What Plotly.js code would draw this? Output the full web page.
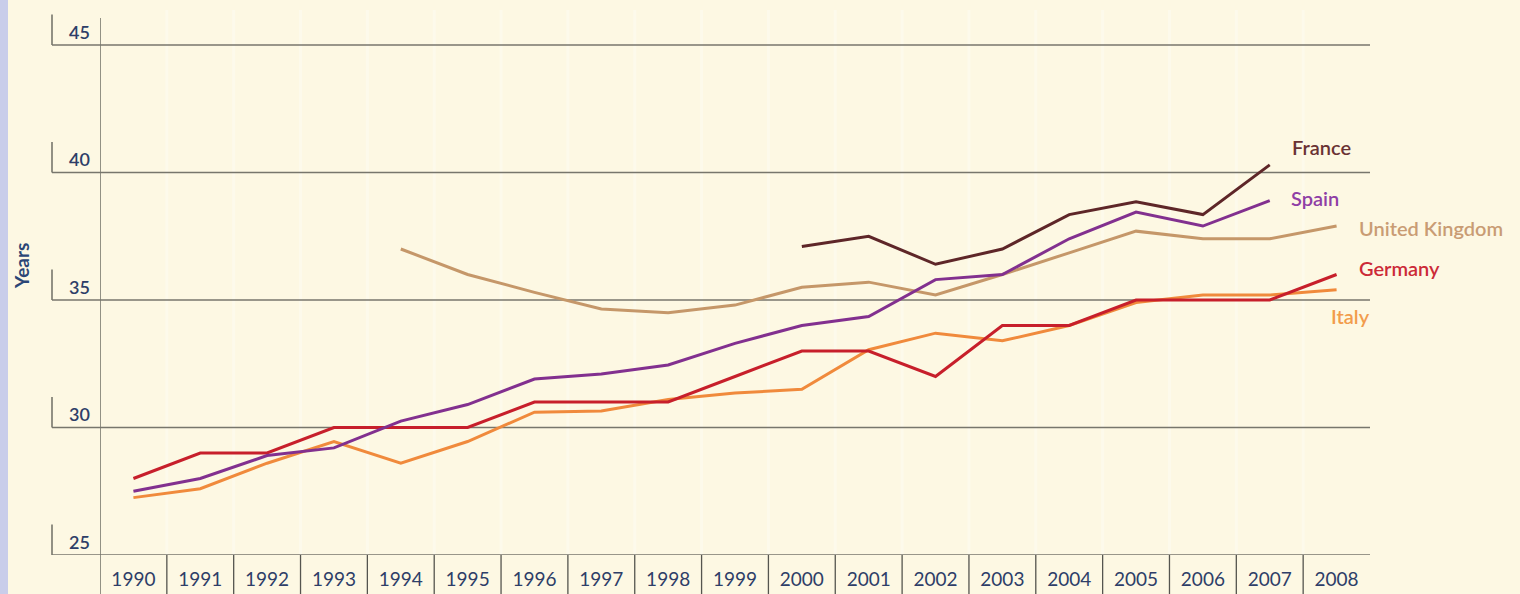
<!DOCTYPE html>
<html>
<head>
<meta charset="utf-8">
<script src="https://cdn.plot.ly/plotly-3.0.1.min.js"></script>
<style>
  html, body { margin: 0; padding: 0; background: #fdf8e3; }
  #chart { width: 1520px; height: 594px; }
</style>
</head>
<body>
<div id="chart"></div>
<script>
// ---- Data ----
const years = ["1990","1991","1992","1993","1994","1995","1996","1997","1998","1999",
               "2000","2001","2002","2003","2004","2005","2006","2007","2008"];
const france  = [null,null,null,null,null,null,null,null,null,null,
                 37.1,37.5,36.4,37.0,38.35,38.85,38.35,40.3,null];
const spain   = [27.5,28.0,28.9,29.2,30.25,30.9,31.9,32.1,32.45,33.3,
                 34.0,34.35,35.8,36.0,37.4,38.45,37.9,38.9,null];
const uk      = [null,null,null,null,37.0,36.0,35.3,34.65,34.5,34.8,
                 35.5,35.7,35.2,36.0,36.85,37.7,37.4,37.4,37.9];
const germany = [28,29,29,30,30,30,31,31,31,32,
                 33,33,32,34,34,35,35,35,36];
const italy   = [27.25,27.6,28.6,29.45,28.6,29.45,30.6,30.65,31.1,31.35,
                 31.5,33.05,33.7,33.4,34.0,34.9,35.2,35.2,35.4];
const yTicks = [25, 30, 35, 40, 45];
const seriesNames = ["France", "Spain", "United Kingdom", "Germany", "Italy"];

// ---- Styling ----
const textBlue = "#2e3e68";
const gridCol = "#77766c";
const cols = {
  "France": "#5e2628",
  "Spain": "#82308f",
  "United Kingdom": "#c59769",
  "Germany": "#c71f2b",
  "Italy": "#f08a3c"
};
const labelCols = {
  "France": "#6a3234",
  "Spain": "#8f3ea6",
  "United Kingdom": "#c99c74",
  "Germany": "#cc2a38",
  "Italy": "#f29c4c"
};
const FONT = "Lato, 'Open Sans', sans-serif";

function tr(name, y) {
  return {
    type: "scatter", mode: "lines", name: name,
    x: years, y: y, connectgaps: false,
    line: { color: cols[name], width: 3 },
    hoverinfo: "x+y+name"
  };
}
const data = [
  tr("United Kingdom", uk),
  tr("Italy", italy),
  tr("Germany", germany),
  tr("Spain", spain),
  tr("France", france)
];

// Geometry in paper units (plot area 1270 x 545 px)
const PW = 1270, PH = 545;
const leftExt = -48 / PW;          // gridlines start at the brackets
const bottomExt = -39 / PH;        // year cells below axis
const shapes = [];

// lavender strip at far left
shapes.push({ type: "rect", xref: "paper", yref: "paper",
  x0: -100 / PW, x1: -92 / PW, y0: bottomExt, y1: 1 + 10 / PH,
  fillcolor: "#c9cdea", line: { width: 0 }, layer: "below" });

// faint vertical stripes in the plot body
for (let k = 1; k < years.length; k++) {
  shapes.push({ type: "line", xref: "x", yref: "paper",
    x0: k - 0.5, x1: k - 0.5, y0: 0, y1: 1,
    line: { color: "rgba(255,255,255,0.3)", width: 3 }, layer: "below" });
}

// horizontal gridlines + bracket ticks
yTicks.forEach(v => {
  shapes.push({ type: "line", xref: "paper", yref: "y",
    x0: leftExt, x1: 1, y0: v, y1: v,
    line: { color: gridCol, width: 1.6 }, layer: "below" });
  shapes.push({ type: "line", xref: "paper", yref: "y",
    x0: leftExt, x1: leftExt, y0: v, y1: v + 1.2,
    line: { color: gridCol, width: 1.6 }, layer: "below" });
});

// main vertical axis line
shapes.push({ type: "line", xref: "x", yref: "paper",
  x0: -0.5, x1: -0.5, y0: bottomExt, y1: (555 - 18) / PH,
  line: { color: gridCol, width: 1.6 }, layer: "below" });

// year cell separators below the axis
for (let k = 1; k < years.length; k++) {
  shapes.push({ type: "line", xref: "x", yref: "paper",
    x0: k - 0.5, x1: k - 0.5, y0: bottomExt, y1: 0,
    line: { color: "#55554f", width: 1.3 }, layer: "below" });
}

// series labels at the line ends
const labelPos = {
  "France":         { x: 17.30, y: 41.0 },
  "Spain":          { x: 17.29, y: 39.0 },
  "United Kingdom": { x: 18.30, y: 37.82 },
  "Germany":        { x: 18.30, y: 36.25 },
  "Italy":          { x: 17.88, y: 34.37 }
};
const annotations = seriesNames.map(n => ({
  text: n, xref: "x", yref: "y", x: labelPos[n].x, y: labelPos[n].y,
  xanchor: "left", yanchor: "middle", showarrow: false,
  font: { family: FONT, size: 20, color: labelCols[n], weight: 600 }
}));
annotations.push({
  text: "Years", xref: "paper", yref: "paper",
  x: -79 / PW, y: (555 - 266) / PH, textangle: -90,
  xanchor: "center", yanchor: "middle", showarrow: false,
  font: { family: FONT, size: 19, color: "#2b4676", weight: "bold" }
});

const layout = {
  width: 1520, height: 594,
  margin: { l: 100, r: 150, t: 10, b: 39 },
  paper_bgcolor: "#fdf8e3",
  plot_bgcolor: "#fdf8e3",
  showlegend: false,
  font: { family: FONT, color: textBlue },
  xaxis: {
    type: "category", categoryorder: "array", categoryarray: years,
    range: [-0.5, 18.5], showgrid: false, zeroline: false, showline: false,
    ticks: "", ticklabelstandoff: 11,
    tickfont: { family: FONT, size: 19, color: textBlue },
    fixedrange: true
  },
  yaxis: {
    range: [25, 25 + PH / 25.5], tickvals: yTicks, ticktext: yTicks.map(String),
    showgrid: false, zeroline: false, showline: false, ticks: "",
    ticklabelposition: "outside top", ticklabelstandoff: 9,
    tickfont: { family: FONT, size: 18, color: textBlue, weight: 600 },
    fixedrange: true
  },
  shapes: shapes,
  annotations: annotations
};

Plotly.newPlot("chart", data, layout, { displayModeBar: false, staticPlot: true });
</script>
</body>
</html>
